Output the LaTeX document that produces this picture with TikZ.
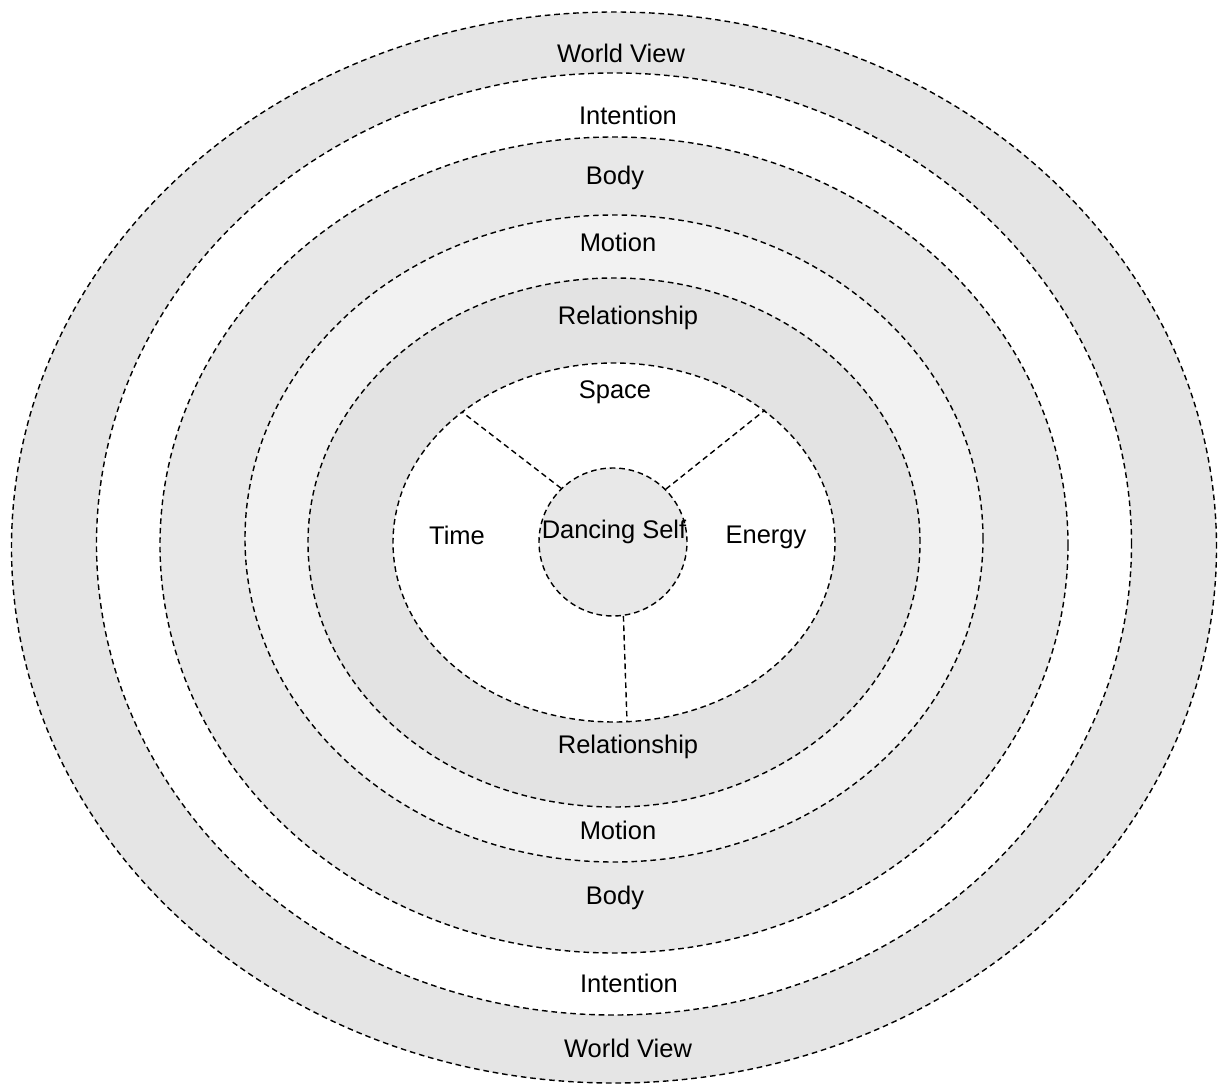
\documentclass[tikz,border=0pt]{standalone}
\usepackage{fontspec}
\setmainfont{Liberation Sans}
\usepackage{tikz}
\usetikzlibrary{calc,positioning}
\definecolor{bandA}{gray}{0.90}
\definecolor{bandB}{gray}{0.91}
\definecolor{bandC}{gray}{0.95}
\definecolor{bandD}{gray}{0.89}
\tikzset{
  ring/.style={draw=black,line width=0.8pt,dash pattern=on 3.2pt off 2.2pt},
  spoke/.style={draw=black,line width=0.8pt,dash pattern=on 3.2pt off 2.2pt},
  lbl/.style={font=\fontsize{14.5}{17}\selectfont,inner sep=0pt}
}
\begin{document}
\begin{tikzpicture}
\useasboundingbox (-12.28,-10.88) rectangle (12.12,10.88);
% ==========================================
% rings, outside in
\draw[ring,fill=bandA] (0,-0.07) ellipse (12.05 and 10.71);
\draw[ring,fill=white] (0,0) ellipse (10.35 and 9.42);
\draw[ring,fill=bandB] (0,-0.02) ellipse (9.08 and 8.16);
\draw[ring,fill=bandC] (0,0.11) ellipse (7.38 and 6.47);
\draw[ring,fill=bandD] (0,0.03) ellipse (6.12 and 5.29);
\draw[ring,fill=white] (0,0.03) ellipse (4.42 and 3.59);
%
\node[ring,circle,fill=bandB,minimum size=2.96cm,inner sep=0pt] (self) at (-0.02,0.04) {};
\node[lbl] (selfname) at (0,0.24) {Dancing Self};
%
\coordinate (spTime) at (-3.04,2.64);
\coordinate (spEnergy) at (3.02,2.68);
\coordinate (spRel) at (0.26,-3.54);
\draw[spoke] (self.134) -- (spTime);%Spoke.
\draw[spoke] (self.45) -- (spEnergy);%Spoke.
\draw[spoke] (self.278.5) -- (spRel);%Spoke.
%
\node[lbl] (space) at (0.02,3.04) {Space};
\node[lbl] (time) at (-3.14,0.18) {Time};
\node[lbl] (energy) at (3.04,0.14) {Energy};
%
\node[lbl] (worldT) at (0.14,9.82) {World View};
\node[lbl] (intentT) at (0.28,8.58) {Intention};
\node[lbl] (bodyT) at (0.02,7.32) {Body};
\node[lbl] (motionT) at (0.08,6.04) {Motion};
\node[lbl] (relT) at (0.28,4.52) {Relationship};
%
\node[lbl] (relB) at (0.28,-4.06) {Relationship};
\node[lbl] (motionB) at (0.08,-5.72) {Motion};
\node[lbl] (bodyB) at (0.02,-7.08) {Body};
\node[lbl] (intentB) at (0.30,-8.78) {Intention};
\node[lbl] (worldB) at (0.28,-10.08) {World View};
% =============================================
\end{tikzpicture}
\end{document}
